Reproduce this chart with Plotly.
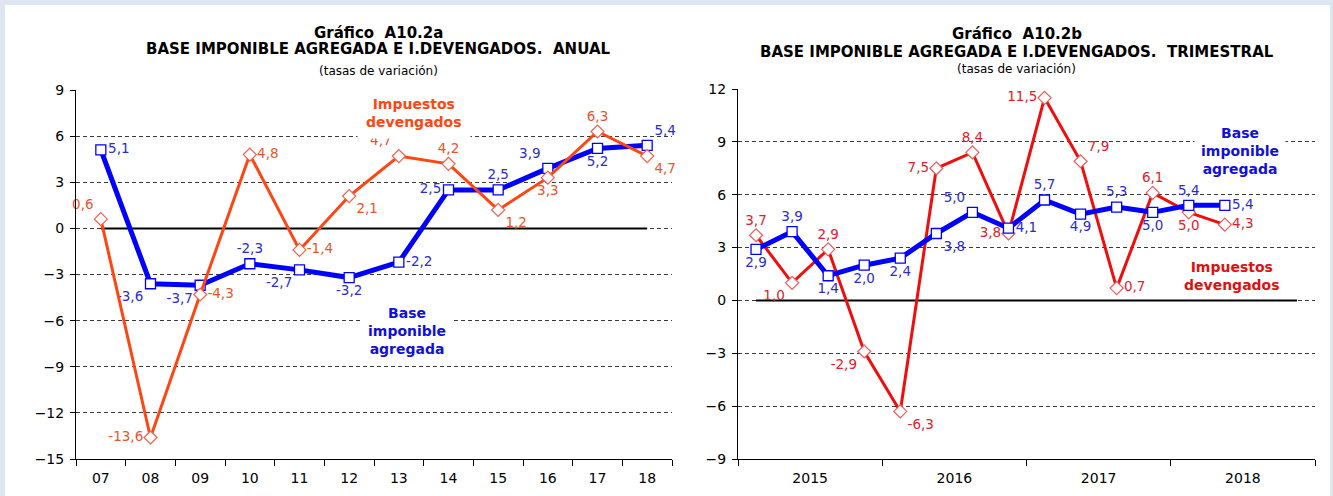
import plotly.graph_objects as go

# ---------------- data ----------------
years_a = ["07", "08", "09", "10", "11", "12", "13", "14", "15", "16", "17", "18"]
base_a = [5.1, -3.6, -3.7, -2.3, -2.7, -3.2, -2.2, 2.5, 2.5, 3.9, 5.2, 5.4]
imp_a = [0.6, -13.6, -4.3, 4.8, -1.4, 2.1, 4.7, 4.2, 1.2, 3.3, 6.3, 4.7]

quarters_b = ["2015T1", "2015T2", "2015T3", "2015T4", "2016T1", "2016T2", "2016T3", "2016T4",
              "2017T1", "2017T2", "2017T3", "2017T4", "2018T1", "2018T2"]
base_b = [2.9, 3.9, 1.4, 2.0, 2.4, 3.8, 5.0, 4.1, 5.7, 4.9, 5.3, 5.0, 5.4, 5.4]
imp_b = [3.7, 1.0, 2.9, -2.9, -6.3, 7.5, 8.4, 3.8, 11.5, 7.9, 0.7, 6.1, 5.0, 4.3]
year_labels_b = ["2015", "2016", "2017", "2018"]

# ---------------- styling ----------------
FONT = "Verdana, DejaVu Sans, sans-serif"
BLUE = "#0000ff"
BLUE_TXT = "#2b2bd0"
ORANGE = "#ff4612"
ORANGE_TXT = "#e8542e"
RED = "#f20d0d"
RED_TXT = "#e0202a"
TICK_SIZE = 14
LBL_SIZE = 13.5

pos_base_a = ["middle right", "bottom left", "bottom left", "top center", "bottom left", "bottom center",
              "middle right", "middle left", "top center", "top left", "bottom center", "top right"]
pos_imp_a = ["top left", "middle left", "middle right", "middle right", "middle right", "bottom right",
             "top left", "top center", "bottom right", "bottom center", "top center", "bottom right"]
pos_base_b = ["bottom center", "top center", "bottom center", "bottom center", "bottom center", "bottom right",
              "top left", "middle right", "top center", "bottom center", "top center", "bottom center",
              "top center", "middle right"]
pos_imp_b = ["top center", "bottom left", "top center", "bottom left", "bottom right", "middle left",
             "top center", "middle left", "middle left", "top right", "middle right", "top center",
             "bottom center", "middle right"]


def fmt(v):
    return f"{v:.1f}".replace(".", ",")


qx = list(range(len(quarters_b)))
n_q_axis = 4 * len(year_labels_b)

fig = go.Figure()

# zero reference lines
fig.add_trace(go.Scatter(x=years_a, y=[0] * len(years_a), mode="lines",
                         line=dict(color="black", width=2), hoverinfo="skip",
                         xaxis="x", yaxis="y", showlegend=False))
fig.add_trace(go.Scatter(x=list(range(n_q_axis)), y=[0] * n_q_axis, mode="lines",
                         line=dict(color="black", width=2), hoverinfo="skip",
                         xaxis="x2", yaxis="y2", showlegend=False))

# left chart
fig.add_trace(go.Scatter(x=years_a, y=base_a, mode="lines+markers+text",
                         text=[fmt(v) for v in base_a], textposition=pos_base_a,
                         textfont=dict(family=FONT, size=LBL_SIZE, color=BLUE_TXT),
                         line=dict(color=BLUE, width=5),
                         marker=dict(symbol="square", size=10, color="white",
                                     line=dict(color=BLUE, width=1.3)),
                         cliponaxis=False, xaxis="x", yaxis="y", showlegend=False))
fig.add_trace(go.Scatter(x=years_a, y=imp_a, mode="lines+markers+text",
                         text=[fmt(v) for v in imp_a], textposition=pos_imp_a,
                         textfont=dict(family=FONT, size=LBL_SIZE, color=ORANGE_TXT),
                         line=dict(color=ORANGE, width=3),
                         marker=dict(symbol="diamond", size=10, color="white",
                                     line=dict(color="#f0604a", width=1.2)),
                         cliponaxis=False, xaxis="x", yaxis="y", showlegend=False))

# right chart
fig.add_trace(go.Scatter(x=qx, y=imp_b, mode="lines+markers+text",
                         text=[fmt(v) for v in imp_b], textposition=pos_imp_b,
                         textfont=dict(family=FONT, size=LBL_SIZE, color=RED_TXT),
                         line=dict(color=RED, width=3),
                         marker=dict(symbol="diamond", size=10, color="white",
                                     line=dict(color="#ee5a5a", width=1.2)),
                         cliponaxis=False, xaxis="x2", yaxis="y2", showlegend=False))
fig.add_trace(go.Scatter(x=qx, y=base_b, mode="lines+markers+text",
                         text=[fmt(v) for v in base_b], textposition=pos_base_b,
                         textfont=dict(family=FONT, size=LBL_SIZE, color=BLUE_TXT),
                         line=dict(color=BLUE, width=5),
                         marker=dict(symbol="square", size=10, color="white",
                                     line=dict(color=BLUE, width=1.3)),
                         cliponaxis=False, xaxis="x2", yaxis="y2", showlegend=False))

W, H = 1333, 496

yaxis_common = dict(showgrid=True, gridcolor="#3a3a3a", griddash="4px,3px", gridwidth=1,
                    zeroline=False, showline=True, linecolor="black", linewidth=1,
                    ticks="outside", ticklen=5, tickcolor="black", automargin=False,
                    ticklabelstandoff=3,
                    tickfont=dict(family=FONT, size=TICK_SIZE, color="black"), dtick=3)

fig.update_layout(
    template="none",
    width=W, height=H, autosize=False,
    margin=dict(l=0, r=0, t=0, b=0, pad=0),
    paper_bgcolor="#dde6f1",
    plot_bgcolor="rgba(0,0,0,0)",
    hovermode=False,
    xaxis=dict(domain=[76 / W, 672 / W], type="category", range=[-0.5, len(years_a) - 0.5],
               tickson="boundaries", ticks="outside", ticklen=6, tickcolor="black",
               showline=True, linecolor="black", linewidth=1, showgrid=False, zeroline=False,
               automargin=False, ticklabelstandoff=6,
               tickfont=dict(family=FONT, size=TICK_SIZE, color="black"), anchor="y"),
    yaxis=dict(domain=[(H - 459) / H, (H - 90) / H], range=[-15, 9], anchor="x", **yaxis_common),
    xaxis2=dict(domain=[738 / W, 1315 / W], range=[-0.5, n_q_axis - 0.5],
                tickmode="array",
                tickvals=[4 * i + 1.5 for i in range(len(year_labels_b))],
                ticktext=year_labels_b, ticks="", ticklabelstandoff=6,
                minor=dict(tickmode="array",
                           tickvals=[4 * i - 0.5 for i in range(len(year_labels_b) + 1)],
                           ticks="outside", ticklen=6, tickcolor="black", showgrid=False),
                showline=True, linecolor="black", linewidth=1, showgrid=False, zeroline=False,
                automargin=False,
                tickfont=dict(family=FONT, size=TICK_SIZE, color="black"), anchor="y2"),
    yaxis2=dict(domain=[(H - 459) / H, (H - 89) / H], range=[-9, 12], anchor="x2", **yaxis_common),
    shapes=[dict(type="rect", xref="paper", yref="paper", x0=5 / W, x1=1330 / W, y0=0, y1=1 - 5 / H,
                 fillcolor="white", line=dict(width=0), layer="below")],
)

annots = []
# titles
for cx, lines in [(378, [("<b>Gráfico  A10.2a</b>", 33, 15), ("<b>BASE IMPONIBLE AGREGADA E I.DEVENGADOS.  ANUAL</b>", 49, 15),
                         ("(tasas de variación)", 71, 12)]),
                  (1017, [("<b>Gráfico  A10.2b</b>", 34, 15), ("<b>BASE IMPONIBLE AGREGADA E I.DEVENGADOS.  TRIMESTRAL</b>", 52, 15),
                          ("(tasas de variación)", 69, 12)])]:
    for txt, yy, sz in lines:
        annots.append(dict(text=txt, x=cx / W, y=1 - yy / H, xref="paper", yref="paper",
                           xanchor="center", yanchor="middle", showarrow=False,
                           font=dict(family=FONT, size=sz, color="black")))

# series labels
annots += [
    dict(text="<b>Impuestos<br>devengados</b>", x=6.31, y=7.5, xref="x", yref="y",
         showarrow=False, bgcolor="white", borderpad=8,
         font=dict(family=FONT, size=14, color=ORANGE)),
    dict(text="<b>Base<br>imponible<br>agregada</b>", x=6.17, y=-6.7, xref="x", yref="y",
         showarrow=False, bgcolor="white", borderpad=6,
         font=dict(family=FONT, size=14, color="#1010d8")),
    dict(text="<b>Base<br>imponible<br>agregada</b>", x=13.42, y=8.48, xref="x2", yref="y2",
         showarrow=False, bgcolor="white", borderpad=6,
         font=dict(family=FONT, size=14, color="#1010d8")),
    dict(text="<b>Impuestos<br>devengados</b>", x=13.2, y=1.38, xref="x2", yref="y2",
         showarrow=False, bgcolor="white", borderpad=4,
         font=dict(family=FONT, size=14, color="#e01010")),
]
fig.update_layout(annotations=annots)

fig.write_html("out.html", config={"displayModeBar": False},
               post_script="document.body.style.margin='0';"
                           "document.documentElement.style.overflow='hidden';"
                           "document.body.style.overflow='hidden';")
